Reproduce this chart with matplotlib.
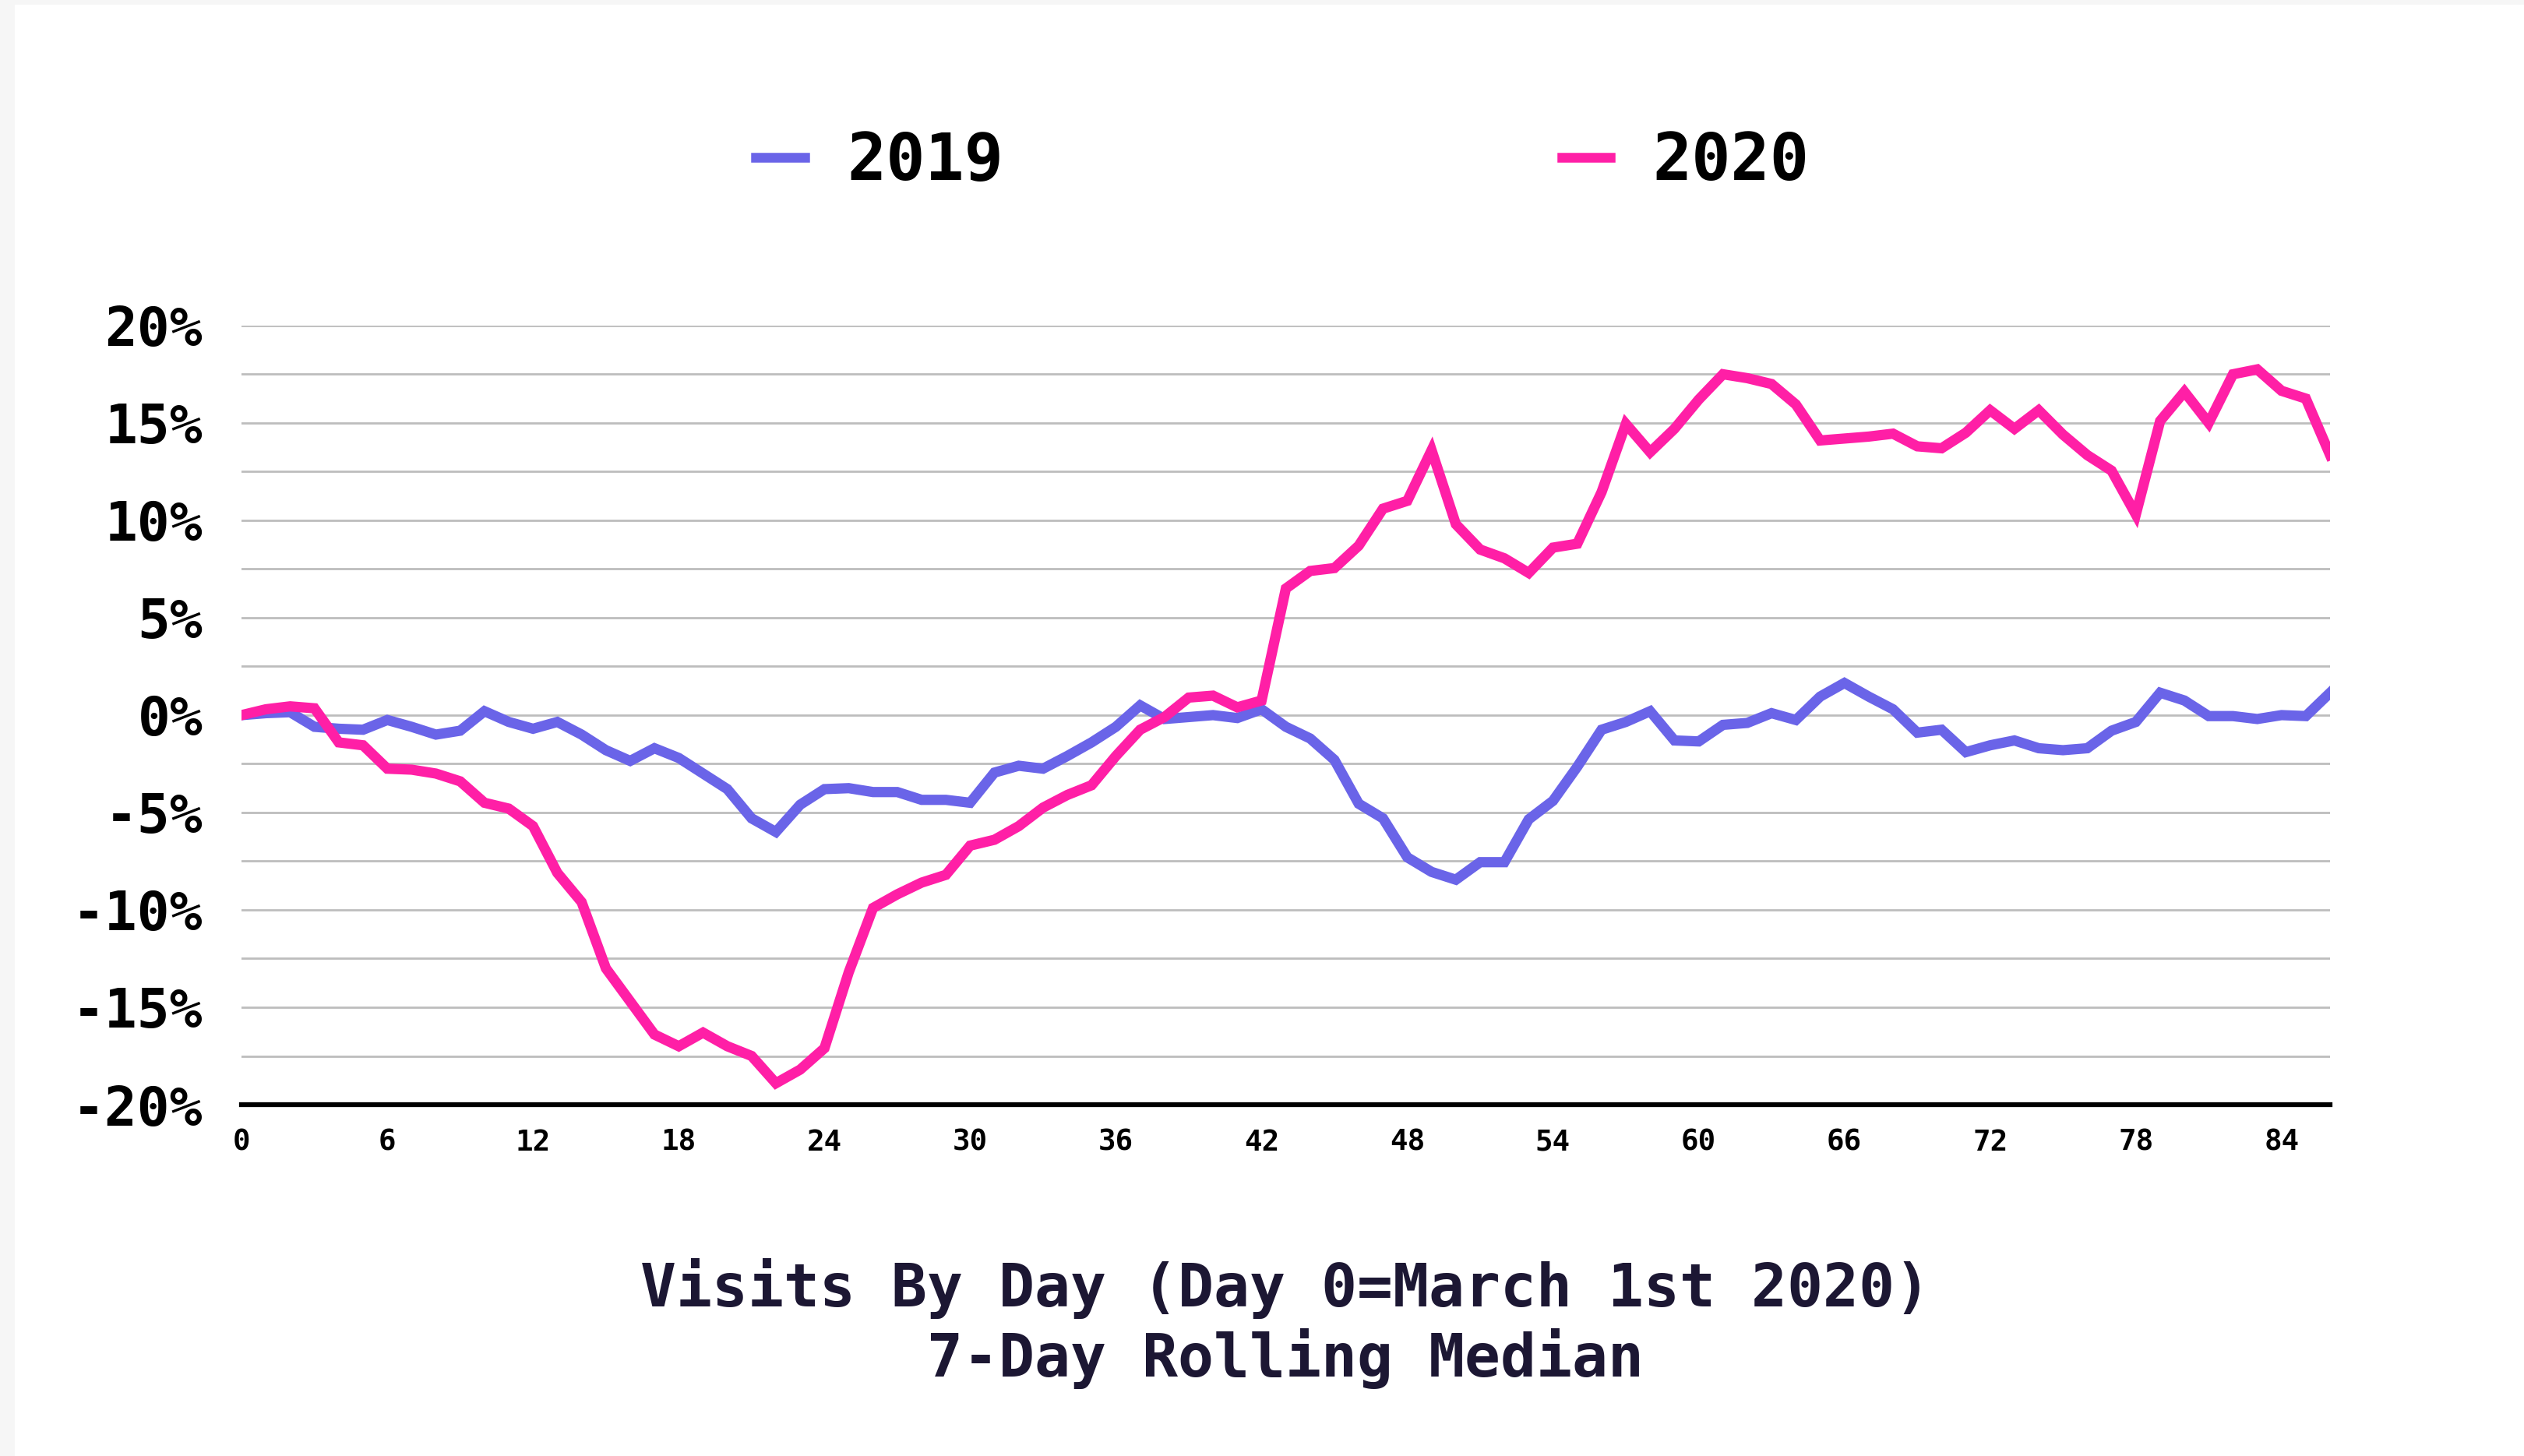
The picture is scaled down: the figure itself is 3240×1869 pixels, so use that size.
import matplotlib
matplotlib.use("Agg")
import matplotlib.pyplot as plt
import matplotlib.patches as mpatches
import numpy as np

# day index (Day 0 = March 1st 2020)
days = np.arange(0, 87)

# 7-day rolling median of visits, % change
visits_2019 = [
    0.0, 0.1, 0.15, -0.6, -0.7, -0.75, -0.25, -0.6, -1.0, -0.8,
    0.2, -0.35, -0.7, -0.35, -1.0, -1.8, -2.35, -1.7, -2.2, -3.0,
    -3.8, -5.3, -6.0, -4.6, -3.8, -3.75, -3.95, -3.95, -4.35, -4.35,
    -4.5, -2.95, -2.6, -2.75, -2.1, -1.4, -0.6, 0.5, -0.2, -0.1,
    0.0, -0.15, 0.3, -0.6, -1.2, -2.3, -4.55, -5.3, -7.3, -8.05,
    -8.45, -7.55, -7.55, -5.35, -4.4, -2.65, -0.75, -0.35, 0.2, -1.3,
    -1.35, -0.5, -0.4, 0.1, -0.25, 0.95, 1.65, 0.95, 0.3, -0.9,
    -0.75, -1.9, -1.55, -1.3, -1.7, -1.8, -1.7, -0.8, -0.35, 1.15,
    0.75, -0.05, -0.05, -0.2, 0.0, -0.05, 1.15,
]
visits_2020 = [
    0.0, 0.3, 0.45, 0.35, -1.4, -1.55, -2.75, -2.8, -3.0, -3.4,
    -4.5, -4.8, -5.7, -8.1, -9.6, -13.0, -14.7, -16.4, -17.0, -16.3,
    -17.0, -17.5, -18.9, -18.2, -17.1, -13.2, -9.9, -9.2, -8.6, -8.2,
    -6.7, -6.4, -5.7, -4.75, -4.1, -3.6, -2.1, -0.75, -0.1, 0.9,
    1.0, 0.4, 0.75, 6.5, 7.4, 7.55, 8.7, 10.6, 11.0, 13.6,
    9.8, 8.5, 8.05, 7.3, 8.6, 8.8, 11.45, 14.95, 13.5, 14.7,
    16.2, 17.5, 17.3, 17.0, 15.95, 14.1, 14.2, 14.3, 14.45, 13.8,
    13.7, 14.5, 15.65, 14.7, 15.65, 14.4, 13.35, 12.55, 10.3, 15.1,
    16.6, 15.0, 17.5, 17.75, 16.65, 16.25, 13.35,
]

series_labels = ["2019", "2020"]
x_ticks = list(range(0, 85, 6))
y_ticks = list(range(-20, 21, 5))

col_2019 = "#6a64e8"
col_2020 = "#ff1fa6"
mono = "DejaVu Sans Mono"

fig = plt.figure(figsize=(32.41, 18.69), dpi=100)
fig.patch.set_facecolor("white")

# light grey frame strip on the left/top edge
fig.patches.append(mpatches.Rectangle((0, 0), 0.0058, 1, transform=fig.transFigure,
                                      facecolor="#f6f6f6", edgecolor="none", zorder=0))
fig.patches.append(mpatches.Rectangle((0, 0.9968), 1, 0.0032, transform=fig.transFigure,
                                      facecolor="#f6f6f6", edgecolor="none", zorder=0))

ax = fig.add_axes([0.0957, 0.2413, 0.8272, 0.5351])

l1, = ax.plot(days, visits_2019, color=col_2019, lw=9.5, solid_joinstyle="miter", zorder=3)
l2, = ax.plot(days, visits_2020, color=col_2020, lw=9.5, solid_joinstyle="miter", zorder=4)

ax.set_xlim(0, 86)
ax.set_ylim(-20, 20)

# gridlines every 2.5%
for g in np.arange(-17.5, 20.1, 2.5):
    ax.axhline(g, color="#bdbdbd", lw=2.0, zorder=1)
ax.axhline(-20, color="black", lw=4.5, zorder=5, clip_on=False)

for s in ax.spines.values():
    s.set_visible(False)

ax.set_xticks(x_ticks)
ax.set_xticklabels([str(t) for t in x_ticks], fontfamily=mono,
                   fontweight="bold", fontsize=27)
ax.set_yticks(y_ticks)
ax.set_yticklabels([f"{t}%" for t in y_ticks], fontfamily=mono,
                   fontweight="bold", fontsize=50)
ax.tick_params(axis="both", length=0)
ax.tick_params(axis="y", pad=36)
ax.tick_params(axis="x", pad=22)

leg = fig.legend([l1, l2], series_labels, loc="center", bbox_to_anchor=(0.508, 0.889),
                 ncol=2, frameon=False, handlelength=0.75, handletextpad=0.65,
                 columnspacing=8.6,
                 prop={"family": mono, "weight": "bold", "size": 60})
for h in leg.get_lines():
    h.set_linewidth(9)

fig.text(0.509, 0.115, "Visits By Day (Day 0=March 1st 2020)", ha="center", va="center",
         fontfamily=mono, fontweight="bold", fontsize=55, color="#1c1733")
fig.text(0.509, 0.067, "7-Day Rolling Median", ha="center", va="center",
         fontfamily=mono, fontweight="bold", fontsize=55, color="#1c1733")

fig.savefig("out.png", dpi=100)
